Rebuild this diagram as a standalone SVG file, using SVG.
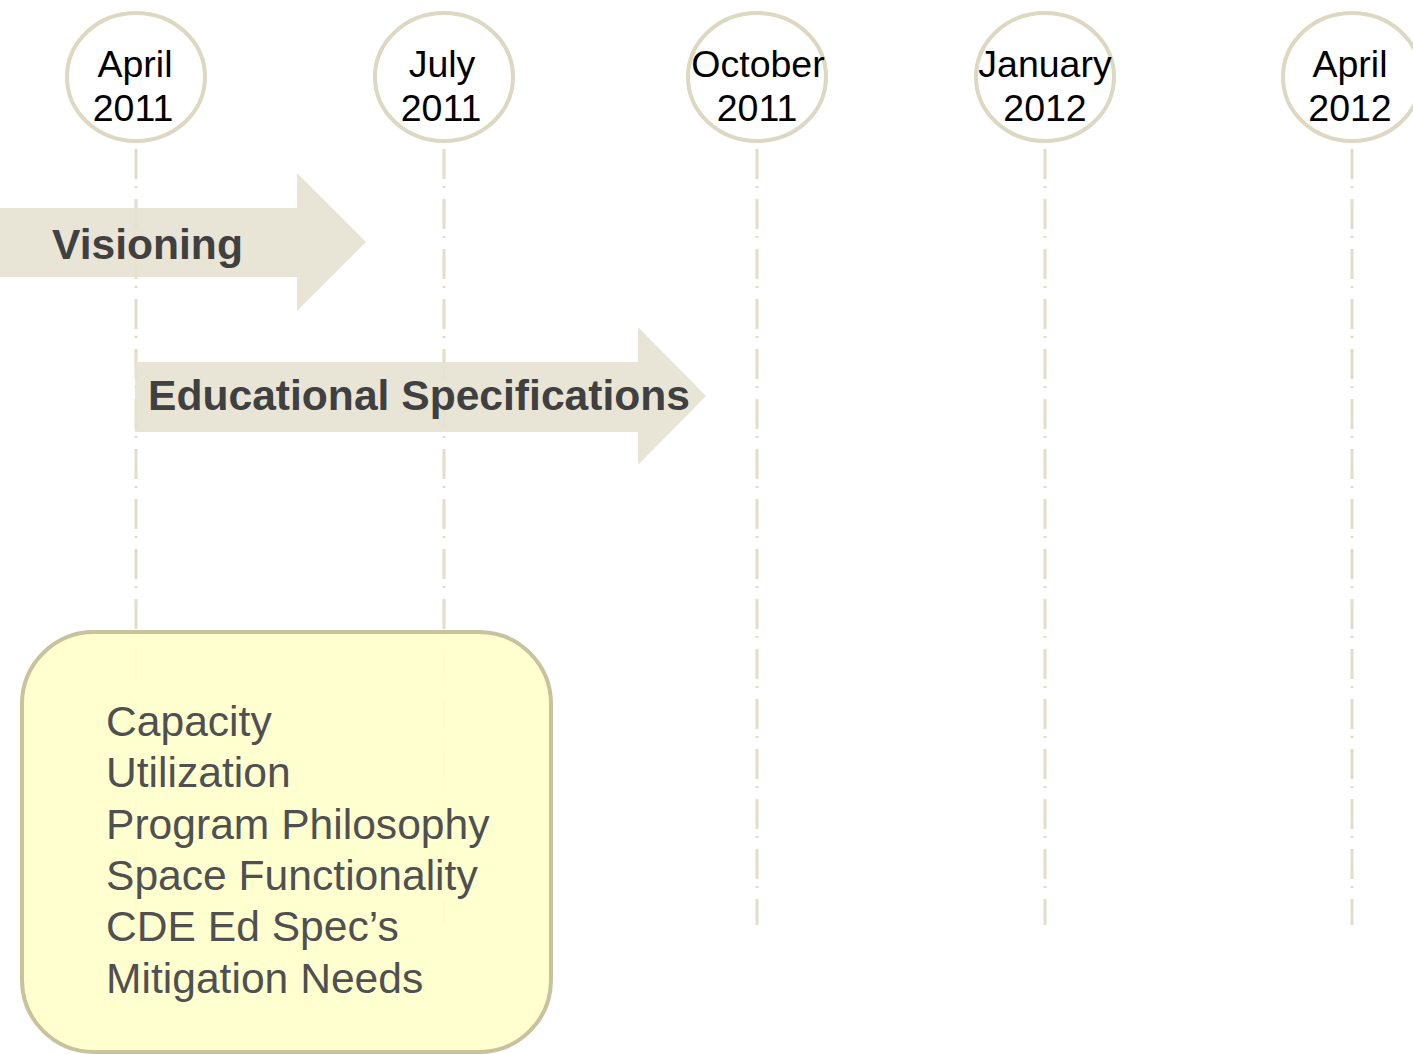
<svg xmlns="http://www.w3.org/2000/svg" width="1413" height="1054" viewBox="0 0 1413 1054">
<style>
.grid{stroke:#e2ddc8;stroke-width:3;stroke-dasharray:30 7 2 11;fill:none}
.ms{fill:#fff;stroke:#ddd8c2;stroke-width:4}
.mt{font-family:"Liberation Sans",Arial,sans-serif;font-size:37.5px;fill:#000;text-anchor:middle}
.arr{fill:#e6e2d3;fill-opacity:0.9}
.at{font-family:"Liberation Sans",Arial,sans-serif;font-size:42.6px;font-weight:bold;fill:#404040}
.bx{fill:#ffffcc;fill-opacity:0.93;stroke:#c9c29c;stroke-width:4}
.bt{font-family:"Liberation Sans",Arial,sans-serif;font-size:42.6px;fill:#505050}
</style>
<rect width="1413" height="1054" fill="#fff"/>
<g id="connectors">
<line class="grid" x1="136" y1="149" x2="136" y2="925"/>
<line class="grid" x1="444" y1="149" x2="444" y2="925"/>
<line class="grid" x1="757" y1="149" x2="757" y2="925"/>
<line class="grid" x1="1045" y1="149" x2="1045" y2="925"/>
<line class="grid" x1="1352" y1="149" x2="1352" y2="925"/>
</g>
<g id="m-apr2011"><ellipse class="ms" cx="136" cy="77" rx="69" ry="64"/><text class="mt" x="135" y="77">April</text><text class="mt" x="133" y="121">2011</text></g>
<g id="m-jul2011"><ellipse class="ms" cx="444" cy="77" rx="69" ry="64"/><text class="mt" x="442" y="77">July</text><text class="mt" x="441" y="121">2011</text></g>
<g id="m-oct2011"><ellipse class="ms" cx="757" cy="77" rx="69" ry="64"/><text class="mt" x="758" y="77">October</text><text class="mt" x="757" y="121">2011</text></g>
<g id="m-jan2012"><ellipse class="ms" cx="1045" cy="77" rx="69" ry="64"/><text class="mt" x="1045" y="77">January</text><text class="mt" x="1045" y="121">2012</text></g>
<g id="m-apr2012"><ellipse class="ms" cx="1352" cy="77" rx="69" ry="64"/><text class="mt" x="1350" y="77">April</text><text class="mt" x="1350" y="121">2012</text></g>
<g id="visioning"><polygon class="arr" points="0,208 297,208 297,173 366,242 297,311 297,277 0,277"/><text class="at" x="52" y="259">Visioning</text></g>
<g id="edspec"><polygon class="arr" points="135,362 638,362 638,327 706,396 638,465 638,432 135,432"/><text class="at" x="148" y="410">Educational Specifications</text></g>
<g id="details"><rect class="bx" x="22" y="632" width="529" height="420" rx="72" ry="72"/>
<text class="bt" x="106" y="736">Capacity</text>
<text class="bt" x="106" y="787">Utilization</text>
<text class="bt" x="106" y="839">Program Philosophy</text>
<text class="bt" x="106" y="890">Space Functionality</text>
<text class="bt" x="106" y="941">CDE Ed Spec’s</text>
<text class="bt" x="106" y="993">Mitigation Needs</text>
</g>
</svg>
